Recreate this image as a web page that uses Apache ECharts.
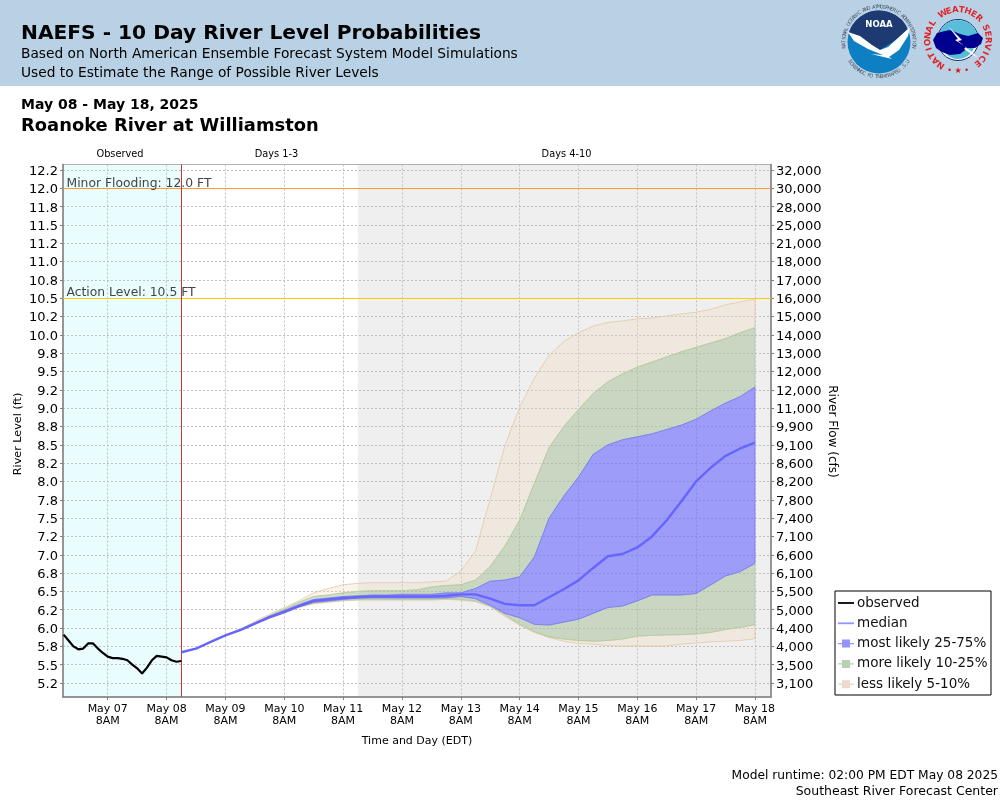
<!DOCTYPE html>
<html><head><meta charset="utf-8">
<style>html,body{margin:0;padding:0;background:#fff}#c{width:1000px;height:800px}</style>
<script src="https://cdn.jsdelivr.net/npm/echarts@6/dist/echarts.min.js"></script>
</head><body><div id="c"></div>
<script>
const FONT = '"DejaVu Sans"';
const obsStart = Date.UTC(2025,4,6,14), obsStepH = 2;
const observed = [5.91,5.83,5.75,5.71,5.72,5.79,5.79,5.72,5.66,5.61,5.59,5.59,5.58,5.56,5.50,5.45,5.38,5.46,5.56,5.62,5.61,5.60,5.56,5.54,5.55];
const fcstStart = Date.UTC(2025,4,8,14), fcstStepH = 6;
const median = [5.67,5.72,5.81,5.90,5.97,6.06,6.15,6.22,6.30,6.37,6.39,6.41,6.42,6.43,6.43,6.43,6.43,6.43,6.44,6.46,6.46,6.40,6.33,6.31,6.31,6.42,6.53,6.65,6.82,6.98,7.01,7.10,7.25,7.47,7.73,8.00,8.19,8.35,8.45,8.53];
const p05 = [5.67,5.72,5.81,5.90,5.97,6.05,6.13,6.20,6.28,6.33,6.35,6.37,6.38,6.38,6.38,6.38,6.38,6.38,6.39,6.38,6.36,6.29,6.16,6.04,5.94,5.87,5.82,5.79,5.78,5.76,5.755,5.755,5.755,5.755,5.78,5.795,5.81,5.82,5.83,5.855];
const p10 = [5.67,5.72,5.81,5.90,5.97,6.06,6.14,6.21,6.29,6.34,6.36,6.38,6.39,6.39,6.39,6.39,6.39,6.39,6.40,6.39,6.37,6.30,6.18,6.05,5.95,5.88,5.85,5.83,5.82,5.83,5.85,5.89,5.90,5.905,5.91,5.92,5.94,5.98,6.01,6.045];
const p25 = [5.67,5.72,5.81,5.90,5.97,6.06,6.14,6.21,6.29,6.35,6.37,6.39,6.41,6.41,6.41,6.41,6.41,6.41,6.41,6.43,6.40,6.31,6.20,6.14,6.05,6.04,6.08,6.12,6.20,6.28,6.30,6.37,6.45,6.45,6.45,6.47,6.59,6.71,6.77,6.88];
const p75 = [5.67,5.72,5.81,5.90,5.98,6.07,6.16,6.24,6.32,6.39,6.41,6.43,6.44,6.45,6.45,6.46,6.46,6.46,6.48,6.48,6.54,6.64,6.655,6.70,6.97,7.50,7.80,8.06,8.37,8.50,8.57,8.61,8.65,8.71,8.77,8.85,8.965,9.07,9.16,9.29];
const p90 = [5.67,5.72,5.81,5.90,5.98,6.07,6.17,6.26,6.35,6.43,6.45,6.48,6.50,6.51,6.51,6.51,6.52,6.56,6.58,6.59,6.655,6.84,7.12,7.47,7.975,8.46,8.75,8.98,9.20,9.36,9.47,9.56,9.63,9.70,9.77,9.83,9.89,9.95,10.03,10.10];
const p95 = [5.67,5.72,5.81,5.90,5.99,6.09,6.19,6.28,6.37,6.48,6.54,6.59,6.61,6.62,6.62,6.62,6.62,6.63,6.64,6.78,7.05,7.76,8.49,9.01,9.41,9.72,9.91,10.03,10.12,10.17,10.19,10.22,10.23,10.26,10.285,10.31,10.35,10.41,10.45,10.49];
const levelTicks = [12.25,12,11.75,11.5,11.25,11,10.75,10.5,10.25,10,9.75,9.5,9.25,9,8.75,8.5,8.25,8,7.75,7.5,7.25,7,6.75,6.5,6.25,6,5.75,5.5,5.25];
const levelLabels = ['12.2','12.0','11.8','11.5','11.2','11.0','10.8','10.5','10.2','10.0','9.8','9.5','9.2','9.0','8.8','8.5','8.2','8.0','7.8','7.5','7.2','7.0','6.8','6.5','6.2','6.0','5.8','5.5','5.2'];
const flowLabels = ['32,000','30,000','28,000','25,000','21,000','18,000','17,000','16,000','15,000','14,000','13,000','12,000','12,000','11,000','9,900','9,100','8,600','8,200','7,800','7,400','7,100','6,600','6,100','5,500','5,000','4,400','4,000','3,500','3,100'];
const tickDays = [7,8,9,10,11,12,13,14,15,16,17,18];
const now = Date.UTC(2025,4,8,14), days3End = Date.UTC(2025,4,11,14);
const xMin = Date.UTC(2025,4,6,13,45), xMax = Date.UTC(2025,4,18,14,32);
const yMin = 5.059, yMax = 12.325;
const zones = [[xMin,now,'#e9fdfe'],[days3End,xMax,'#efefef']];
const minorLevel = 12, actionLevel = 10.5;

const fcstTimes = median.map((_,i)=>fcstStart+i*fcstStepH*3600e3);
const obsRows = observed.map((v,i)=>[obsStart+i*obsStepH*3600e3,v]);
const medRows = median.map((v,i)=>[fcstTimes[i],v]);
const tickTimes = tickDays.map(d=>Date.UTC(2025,4,d,8));

function ring(api,lo,hi,n,style){
  const pts=[];
  for(let i=0;i<n;i++)pts.push(api.coord([api.value(0,i),api.value(lo,i)]));
  for(let i=n-1;i>=0;i--)pts.push(api.coord([api.value(0,i),api.value(hi,i)]));
  return {type:'polygon',shape:{points:pts},style:style};
}
function bandSeries(name,rows,pairs,fill,stroke,z){
  return {name,type:'custom',coordinateSystem:'cartesian2d',data:rows,z,silent:true,
    itemStyle:{color:fill},
    encode:{x:0,y:1},clip:true,
    renderItem(params,api){
      if(params.dataIndex!==0)return;
      return {type:'group',children:pairs.map(p=>ring(api,p[0],p[1],rows.length,{fill:fill,stroke:stroke,lineWidth:1}))};
    }};
}
const tanRows = fcstTimes.map((t,i)=>[t,p05[i],p10[i],p90[i],p95[i]]);
const greenRows = fcstTimes.map((t,i)=>[t,p10[i],p25[i],p75[i],p90[i]]);
const blueRows = fcstTimes.map((t,i)=>[t,p25[i],p75[i]]);

const bandIcon='path://M0 0L0 0M16 16L16 16M0 7.3H16V8.7H0ZM4 4H12V12H4Z';
const lineIcon='path://M0 0L0 0M16 16L16 16M0 7.1H16V8.9H0Z';

/* logos */
function ringText(txt,cx,cy,r,startDeg,endDeg,size,color,weight,inward){
  const out=[];const n=txt.length;
  for(let i=0;i<n;i++){
    const a=(startDeg+(endDeg-startDeg)*(i+0.5)/n)*Math.PI/180;
    const x=cx+r*Math.sin(a),y=cy-r*Math.cos(a);
    out.push({type:'text',x,y,rotation:inward?Math.PI-a:-a,z:20,
      style:{text:txt[i],font:`${weight} ${size}px ${FONT}`,fill:color,align:'center',verticalAlign:'middle'}});
  }
  return out;
}
const nc=[879,42],wc=[958,40];
const noaa=[
 {type:'circle',shape:{cx:nc[0],cy:nc[1],r:31.5},style:{fill:'#0d7fc2'},z:19},
 {type:'sector',shape:{cx:nc[0],cy:nc[1],r:31.5,startAngle:Math.PI*1.1,endAngle:Math.PI*1.9},style:{fill:'#1d3a73'},z:19},
 {type:'polygon',shape:{points:[[850,33],[880,50],[908,32],[879,20]]},style:{fill:'#1d3a73'},z:19},
 {type:'polygon',shape:{points:[[848,32],[860,36],[872,45],[880,50],[888,47],[898,38],[910,27],[908,36],[899,50],[889,57],[892,59],[871,54],[883,55],[868,49],[854,41]]},style:{fill:'#fff'},z:20},
 {type:'text',x:nc[0],y:25,z:20,style:{text:'NOAA',font:`bold 8.5px ${FONT}`,fill:'#fff',align:'center',verticalAlign:'middle'}},
 ...ringText('NATIONAL OCEANIC AND ATMOSPHERIC ADMINISTRATION',nc[0],nc[1],35,-100,100,5,'#4b5563','normal',false),
 ...ringText('U.S. DEPARTMENT OF COMMERCE',nc[0],nc[1],35,122,238,5,'#4b5563','normal',true)
];
const nws=[
 {type:'circle',shape:{cx:wc[0],cy:wc[1],r:20.5},style:{fill:'#fff',stroke:'#16306e',lineWidth:1},z:19},
 {type:'sector',shape:{cx:wc[0],cy:wc[1],r:20,startAngle:Math.PI*1.0,endAngle:Math.PI*2},style:{fill:'#58bdd8'},z:19},
 {type:'sector',shape:{cx:wc[0],cy:wc[1]+2,r:17,startAngle:Math.PI*0.12,endAngle:Math.PI*0.88},style:{fill:'#58bdd8'},z:19},
 {type:'polygon',shape:{points:[[933,40],[937,33],[945,31],[950,30],[960,34],[968,36],[978,33],[983,38],[981,44],[975,48],[968,48],[960,54],[950,55],[942,52],[936,48]]},style:{fill:'#00008f'},z:20},
 {type:'polygon',shape:{points:[[948,26],[962,40],[958,41],[972,52],[978,58],[964,49],[966,47],[955,40],[958,39]]},style:{fill:'#fff'},z:21},
 ...ringText('NATIONAL',wc[0],wc[1],30,-152,-50,8.5,'#e0242a','bold',false),
 ...ringText('WEATHER',wc[0],wc[1],30,-36,50,8.5,'#e0242a','bold',false),
 ...ringText('SERVICE',wc[0],wc[1],30,60,146,8.5,'#e0242a','bold',false),
 {type:'text',x:wc[0],y:71,z:20,style:{text:'• ★ •',font:`8px ${FONT}`,fill:'#d11',align:'center',verticalAlign:'middle'}}
];
const txt=(x,y,t,size,weight,align,color)=>({type:'text',x,y,z:10,style:{text:t,font:`${weight||'normal'} ${size}px ${FONT}`,fill:color||'#000',align:align||'left',verticalAlign:'middle'}});

const chart=echarts.init(document.getElementById('c'),null,{renderer:'canvas'});
chart.setOption({
 animation:false,
 textStyle:{fontFamily:FONT},
 graphic:[
  {type:'rect',shape:{x:0,y:0,width:1000,height:86},style:{fill:'#b9d1e4'},z:5},
  txt(21,33.5,'NAEFS - 10 Day River Level Probabilities',20.2,'bold'),
  txt(21,54.5,'Based on North American Ensemble Forecast System Model Simulations',13.75),
  txt(21,73.5,'Used to Estimate the Range of Possible River Levels',13.75),
  txt(21,105.5,'May 08 - May 18, 2025',14,'bold'),
  txt(21,126.5,'Roanoke River at Williamston',17.9,'bold'),
  txt(120,154,'Observed',9.8,'normal','center'),
  txt(276.5,154,'Days 1-3',9.8,'normal','center'),
  txt(566.5,154,'Days 4-10',9.8,'normal','center'),
  txt(998,775.5,'Model runtime: 02:00 PM EDT May 08 2025',12.25,'normal','right'),
  txt(998,791.5,'Southeast River Forecast Center',12.5,'normal','right'),
  Object.assign(txt(18,434,'River Level (ft)',11.2,'normal','center'),{rotation:Math.PI/2}),
  Object.assign(txt(832,431.5,'River Flow (cfs)',12,'normal','center'),{rotation:-Math.PI/2}),
  ...noaa,...nws
 ],
 grid:{left:63,right:229,top:164.5,bottom:103,show:true,borderColor:'#b0b0b0',borderWidth:1,backgroundColor:'transparent'},
 legend:{show:true,left:835,top:591,orient:'vertical',itemWidth:16,itemHeight:16,itemGap:4.3,padding:[4,3.5,2.8,3],
   backgroundColor:'#fff',borderColor:'#000',borderWidth:1,selectedMode:false,
   textStyle:{fontSize:13.5,color:'#111',fontFamily:FONT,padding:[0,0,0,-2]},
   data:[{name:'observed',icon:lineIcon},{name:'median',icon:lineIcon,itemStyle:{opacity:.7}},
     {name:'most likely 25-75%',icon:bandIcon,itemStyle:{color:'rgba(102,102,255,0.7)'}},
     {name:'more likely 10-25%',icon:bandIcon,itemStyle:{color:'rgba(150,190,140,0.7)'}},
     {name:'less likely 5-10%',icon:bandIcon,itemStyle:{color:'rgba(225,200,170,0.65)'}}]},
 xAxis:{type:'value',min:xMin,max:xMax,name:'Time and Day (EDT)',nameLocation:'middle',nameGap:38.5,
   nameTextStyle:{fontSize:11,color:'#000'},
   axisLine:{show:true,lineStyle:{color:'#808080',width:1.5}},
   axisTick:{show:true,length:3,lineStyle:{color:'#808080'},customValues:tickTimes},
   axisLabel:{customValues:tickTimes,color:'#000',fontSize:11,lineHeight:12,margin:6,hideOverlap:false,showMinLabel:true,showMaxLabel:true,
     formatter:v=>'May '+String(new Date(v).getUTCDate()).padStart(2,'0')+'\n8AM'},
   splitLine:{show:true,lineStyle:{color:'#c0c0c0',type:[2,2],width:1}}},
 yAxis:[
  {type:'value',min:yMin,max:yMax,position:'left',
   axisLine:{show:true,lineStyle:{color:'#808080',width:1.5}},
   axisTick:{show:true,length:3,lineStyle:{color:'#808080'},customValues:levelTicks},
   axisLabel:{customValues:levelTicks,color:'#000',fontSize:13,margin:5,verticalAlign:'top',lineHeight:3,showMinLabel:true,showMaxLabel:true,
     formatter:v=>levelLabels[levelTicks.indexOf(v)]},
   splitLine:{show:true,lineStyle:{color:'#c0c0c0',type:[2,2],width:1}}},
  {type:'value',min:yMin,max:yMax,position:'right',
   axisLine:{show:true,lineStyle:{color:'#808080',width:1.5}},
   axisTick:{show:true,length:3,lineStyle:{color:'#808080'},customValues:levelTicks},
   axisLabel:{customValues:levelTicks,color:'#000',fontSize:13,margin:5,verticalAlign:'top',lineHeight:3,showMinLabel:true,showMaxLabel:true,
     formatter:v=>flowLabels[levelTicks.indexOf(v)]},
   splitLine:{show:false}}
 ],
 series:[
  {name:'zones',type:'custom',coordinateSystem:'cartesian2d',z:-1,silent:true,data:zones,encode:{x:[0,1]},clip:true,
   renderItem(params,api){
     const a=api.coord([api.value(0),yMin]),b=api.coord([api.value(1),yMax]);
     return {type:'rect',shape:{x:a[0],y:b[1],width:b[0]-a[0],height:a[1]-b[1]},style:{fill:zones[params.dataIndex][2]}};
   }},
  bandSeries('less likely 5-10%',tanRows,[[1,2],[3,4]],'rgba(237,216,187,0.30)','rgba(228,200,165,0.8)',2),
  bandSeries('more likely 10-25%',greenRows,[[1,2],[3,4]],'rgba(161,189,149,0.50)','rgba(175,208,165,0.8)',3),
  bandSeries('most likely 25-75%',blueRows,[[1,2]],'rgba(102,102,255,0.60)','rgba(120,120,250,0.8)',4),
  {name:'median',type:'line',data:medRows,symbol:'none',z:6,silent:true,lineStyle:{color:'#6666ff',width:2.4},itemStyle:{color:'#6666ff'}},
  {name:'observed',type:'line',data:obsRows,symbol:'none',z:7,silent:true,lineStyle:{color:'#000',width:2.2},itemStyle:{color:'#000'},
   markLine:{silent:true,symbol:'none',animation:false,z:5,
     data:[
      {yAxis:minorLevel,lineStyle:{color:'#ff9a33',width:1.2,type:'solid'},label:{formatter:'Minor Flooding: 12.0 FT'}},
      {yAxis:actionLevel,lineStyle:{color:'#ffcc00',width:1.2,type:'solid'},label:{formatter:'Action Level: 10.5 FT'}},
      {xAxis:now,lineStyle:{color:'#cc3333',width:1,type:'solid'},label:{show:false}}
     ],
     label:{show:true,position:'insideStartTop',color:'#444',fontSize:12.35,distance:[3.5,-1],fontFamily:FONT}}}
 ]
});
</script></body></html>
